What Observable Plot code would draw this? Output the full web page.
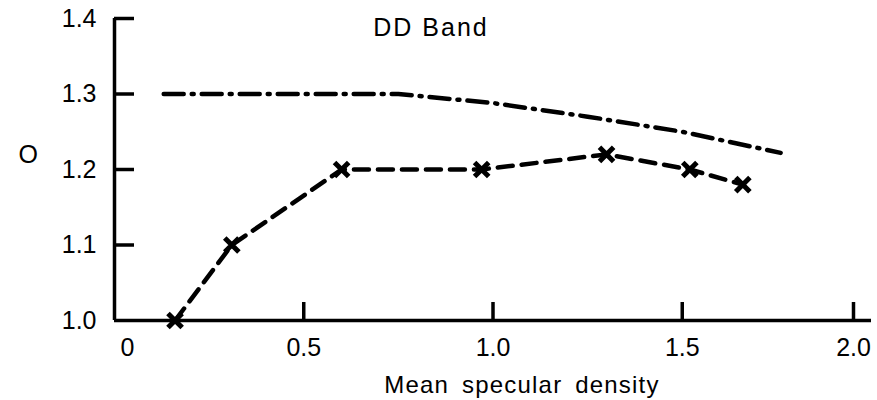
<!DOCTYPE html>
<html>
<head>
<meta charset="utf-8">
<script src="https://cdn.jsdelivr.net/npm/d3@7"></script>
<script src="https://cdn.jsdelivr.net/npm/@observablehq/plot@0.6"></script>
<style>
  html, body { margin: 0; padding: 0; background: #fff; }
  #chart svg { display: block; }
</style>
</head>
<body>
<div id="chart"></div>
<script>
// Measured band: mean specular density vs. O, plotted with x markers
const bandDensity = [0.16, 0.31, 0.60, 0.97, 1.30, 1.52, 1.66];
const bandO       = [1.00, 1.10, 1.20, 1.20, 1.22, 1.20, 1.18];

// Reference curve (dash-dot)
const refDensity = [0.13, 0.75, 1.00, 1.25, 1.50, 1.76];
const refO       = [1.30, 1.30, 1.288, 1.27, 1.25, 1.222];

// Axis ticks and labels
const xTicks = [0, 0.5, 1.0, 1.5, 2.0];
const xTickLabels = ["0", "0.5", "1.0", "1.5", "2.0"];
const yTicks = [1.0, 1.1, 1.2, 1.3, 1.4];
const yTickLabels = ["1.0", "1.1", "1.2", "1.3", "1.4"];

const titleText = "DD Band";
const xLabelText = "Mean specular density";
const yLabelText = "O";

const band = bandDensity.map((x, i) => ({x, o: bandO[i]}));
const ref = refDensity.map((x, i) => ({x, o: refO[i]}));

const xFmt = d => xTickLabels[xTicks.indexOf(d)];
const yFmt = d => yTickLabels[yTicks.indexOf(d)];

const ink = "#000";
const font = "'Liberation Sans', Arial, Helvetica, sans-serif";
const axisWidth = 3.5;
const tickFont = 25;

const chart = Plot.plot({
  width: 877,
  height: 400,
  marginLeft: 114,
  marginRight: 6,
  marginTop: 18,
  marginBottom: 80,
  style: {fontFamily: font, fontSize: "24px", color: ink, background: "#fff"},
  x: {domain: [0, 2.0]},
  y: {domain: [1.0, 1.4]},
  marks: [
    // axis lines
    Plot.ruleX([0], {stroke: ink, strokeWidth: axisWidth}),
    Plot.ruleY([1.0], {stroke: ink, strokeWidth: axisWidth}),
    // y axis: inward ticks, labels on the left
    Plot.axisY(yTicks.slice(1), {anchor: "left", tickSize: -20, tickPadding: 38, strokeWidth: axisWidth,
      tickFormat: yFmt, fontSize: tickFont, label: null}),
    Plot.axisY([1.0], {anchor: "left", tickSize: 0, tickPadding: 18, tickFormat: yFmt, fontSize: tickFont, label: null}),
    // x axis: inward ticks, labels below
    Plot.axisX([0.5, 1.0, 1.5], {anchor: "bottom", tickSize: -18, tickPadding: 36, strokeWidth: axisWidth,
      tickFormat: xFmt, fontSize: tickFont, label: null}),
    Plot.axisX([0], {anchor: "bottom", tickSize: 0, tickPadding: 18, tickFormat: xFmt, fontSize: tickFont, label: null, dx: 13}),
    Plot.axisX([2.0], {anchor: "bottom", tickSize: -18, tickPadding: 36, strokeWidth: axisWidth,
      tickFormat: xFmt, fontSize: tickFont, label: null, dx: -18}),
    // reference dash-dot curve
    Plot.line(ref, {x: "x", y: "o", stroke: ink, strokeWidth: 4.5, strokeDasharray: "20,8,2,8", strokeLinecap: "round"}),
    // measured band, dashed with x markers
    Plot.line(band, {x: "x", y: "o", stroke: ink, strokeWidth: 4.5, strokeDasharray: "15,9", strokeLinecap: "round"}),
    Plot.dot(band, {x: "x", y: "o", symbol: "times", r: 6.5, stroke: ink, strokeWidth: 5}),
    // title and axis labels
    Plot.text([titleText], {frameAnchor: "top", lineAnchor: "top", dx: -62, dy: 0,
      fontSize: 25, fill: ink, text: d => d}),
    Plot.text([yLabelText], {frameAnchor: "left", dx: -96, dy: -15, fontSize: 25, fill: ink, text: d => d}),
    Plot.text([xLabelText], {frameAnchor: "bottom", lineAnchor: "top", dx: 29, dy: 55,
      fontSize: 24, fill: ink, text: d => d})
  ]
});

// Heavier tick strokes to match the axis lines
d3.select(chart).selectAll("g").filter(function () {
  const label = this.getAttribute("aria-label") || "";
  return /axis tick$/.test(label);
}).selectAll("path").style("stroke-width", axisWidth + "px");

// Widen the tracking of the title and the x-axis label
d3.select(chart).selectAll("text").each(function () {
  const t = this.textContent;
  if (t === titleText) d3.select(this).style("letter-spacing", "2px");
  if (t === xLabelText) d3.select(this).style("letter-spacing", "1.2px").style("word-spacing", "5px");
});

document.getElementById("chart").appendChild(chart);
</script>
</body>
</html>
